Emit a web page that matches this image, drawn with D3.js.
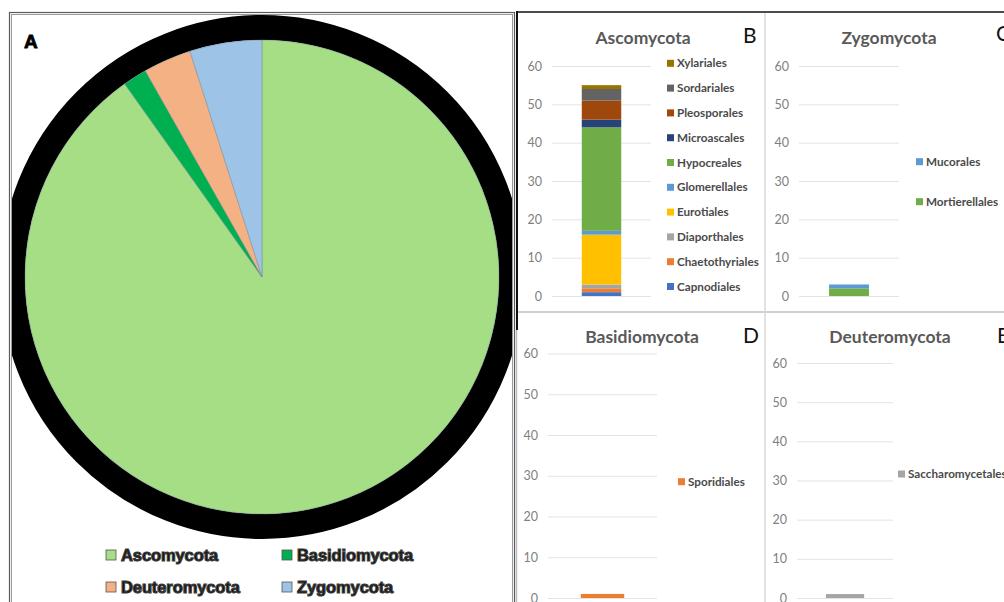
<!DOCTYPE html>
<html>
<head>
<meta charset="utf-8">
<script src="https://cdn.jsdelivr.net/npm/d3@7/dist/d3.min.js"></script>
<style>
  html, body { margin: 0; padding: 0; background: #fff; }
  svg { display: block; }
</style>
</head>
<body>
<svg id="fig" width="1004" height="602"></svg>
<script>
// ---- data ----
const phyla = ["Ascomycota", "Basidiomycota", "Deuteromycota", "Zygomycota"];
const phylumCounts = [55, 1, 2, 3];

const ascoOrders = ["Capnodiales", "Chaetothyriales", "Diaporthales", "Eurotiales", "Glomerellales",
                    "Hypocreales", "Microascales", "Pleosporales", "Sordariales", "Xylariales"];
const ascoCounts = [1, 1, 1, 13, 1, 27, 2, 5, 3, 1];

const zygoOrders = ["Mortierellales", "Mucorales"];
const zygoCounts = [2, 1];

const basidioOrders = ["Sporidiales"];
const basidioCounts = [1];

const deuteroOrders = ["Saccharomycetales"];
const deuteroCounts = [1];

const yTicks = [0, 10, 20, 30, 40, 50, 60];

// ---- colours ----
const phylumColors = ["#a5de84", "#00b050", "#f4b183", "#9dc3e6"];
const ascoColors = ["#4472c4", "#ed7d31", "#a5a5a5", "#ffc000", "#5b9bd5",
                    "#70ad47", "#264478", "#9e480e", "#636363", "#997300"];
const zygoColors = ["#70ad47", "#5b9bd5"];
const basidioColors = ["#ed7d31"];
const deuteroColors = ["#a5a5a5"];

const svg = d3.select("#fig");

// ================= Panel A: pie of phyla =================
const pieCx = 262, pieCy = 277, pieR = 237, ringW = 25;

svg.append("clipPath").attr("id", "clipA")
  .append("rect").attr("x", 11).attr("y", 14).attr("width", 501).attr("height", 600);

const gA = svg.append("g").attr("clip-path", "url(#clipA)");

// thick black rim around the pie
gA.append("circle")
  .attr("cx", pieCx).attr("cy", pieCy)
  .attr("r", pieR + ringW / 2)
  .attr("fill", "none").attr("stroke", "#000").attr("stroke-width", ringW);

const pie = d3.pie().sort(null).value(d => d.v);
const arc = d3.arc().innerRadius(0).outerRadius(pieR);
const pieData = phyla.map((p, i) => ({ name: p, v: phylumCounts[i], c: phylumColors[i] }));

gA.append("g").attr("transform", `translate(${pieCx},${pieCy})`)
  .selectAll("path").data(pie(pieData)).join("path")
  .attr("d", arc)
  .attr("fill", d => d.data.c)
  .attr("stroke", "rgba(110,130,150,0.55)").attr("stroke-width", 0.8);

// panel A frame (double line)
svg.append("rect").attr("x", 9.5).attr("y", 12.5).attr("width", 505).attr("height", 600)
  .attr("fill", "none").attr("stroke", "#5a5a5a").attr("stroke-width", 1.2);
svg.append("rect").attr("x", 11.5).attr("y", 14.5).attr("width", 501).attr("height", 600)
  .attr("fill", "none").attr("stroke", "#9a9a9a").attr("stroke-width", 1);

svg.append("text").attr("x", 24).attr("y", 48).text("A")
  .attr("font-family", "Liberation Sans, Arial, sans-serif").attr("font-weight", "bold")
  .attr("font-size", 19).attr("fill", "#000").attr("stroke", "#000").attr("stroke-width", 0.8);

// pie legend (2 x 2)
const legA = svg.append("g");
const legAPos = [[106, 555], [282, 555], [106, 587], [282, 587]];
pieData.forEach((d, i) => {
  const [lx, ly] = legAPos[i];
  legA.append("rect").attr("x", lx).attr("y", ly - 5).attr("width", 10).attr("height", 10)
    .attr("fill", d.c).attr("stroke", "#555").attr("stroke-width", 0.8);
  legA.append("text").attr("x", lx + 15).attr("y", ly).attr("dy", "0.36em").text(d.name)
    .attr("font-family", "Liberation Sans, Arial, sans-serif").attr("font-weight", "bold")
    .attr("font-size", 16.5).attr("fill", "#111")
    .attr("stroke", "#3a3a3a").attr("stroke-width", 1.1).attr("letter-spacing", -0.1);
});

// ================= Panels B-E: stacked order bars =================
const panels = [
  { title: "Ascomycota", letter: "B", orders: ascoOrders, counts: ascoCounts, colors: ascoColors,
    gx0: 552, gx1: 651, y0: 296, y60: 66, titleX: 643, titleY: 38, letterX: 743, letterY: 36,
    legX: 667, legY: 63.3, legStep: 24.8 },
  { title: "Zygomycota", letter: "C", orders: zygoOrders, counts: zygoCounts, colors: zygoColors,
    gx0: 799, gx1: 899, y0: 296, y60: 66, titleX: 889, titleY: 38, letterX: 996, letterY: 34,
    legX: 916, legY: 161.7, legStep: 40 },
  { title: "Basidiomycota", letter: "D", orders: basidioOrders, counts: basidioCounts, colors: basidioColors,
    gx0: 548, gx1: 657, y0: 598, y60: 353.5, titleX: 642, titleY: 336.5, letterX: 743, letterY: 336,
    legX: 678, legY: 481.7, legStep: 24 },
  { title: "Deuteromycota", letter: "E", orders: deuteroOrders, counts: deuteroCounts, colors: deuteroColors,
    gx0: 797, gx1: 893, y0: 598, y60: 363, titleX: 890, titleY: 336.5, letterX: 997, letterY: 336,
    legX: 898, legY: 474, legStep: 24 }
];

const uiFont = "Lato, 'Open Sans', sans-serif";

panels.forEach(p => {
  const g = svg.append("g");
  const y = d3.scaleLinear().domain([0, 60]).range([p.y0, p.y60]);
  const x = d3.scaleBand().domain([p.title]).range([p.gx0, p.gx1]).padding(0.43);

  // value axis with gridlines
  const ax = g.append("g").attr("transform", `translate(${p.gx0},0)`)
    .call(d3.axisLeft(y).tickValues(yTicks).tickSize(-(p.gx1 - p.gx0)).tickPadding(10));
  ax.select(".domain").remove();
  ax.selectAll(".tick line").attr("stroke", "#e3e3e3").attr("stroke-width", 1);
  ax.selectAll(".tick text").attr("fill", "#7f7f7f").attr("font-family", uiFont).attr("font-size", 12.5);

  // stacked bar
  const row = {};
  p.orders.forEach((o, i) => { row[o] = p.counts[i]; });
  const series = d3.stack().keys(p.orders)([row]);
  g.selectAll("rect.seg").data(series).join("rect").attr("class", "seg")
    .attr("x", x(p.title)).attr("width", x.bandwidth())
    .attr("y", s => y(s[0][1])).attr("height", s => y(s[0][0]) - y(s[0][1]))
    .attr("fill", (s, i) => p.colors[i]);

  // title & panel letter
  g.append("text").attr("x", p.titleX).attr("y", p.titleY).attr("dy", "0.35em")
    .attr("text-anchor", "middle").text(p.title)
    .attr("font-family", uiFont).attr("font-weight", "bold").attr("font-size", 17.5).attr("fill", "#595959");
  g.append("text").attr("x", p.letterX).attr("y", p.letterY).attr("dy", "0.35em").text(p.letter)
    .attr("font-family", uiFont).attr("font-size", 21).attr("fill", "#111");

  // legend, top entry = top of stack
  const legendItems = p.orders.map((o, i) => ({ o, c: p.colors[i] })).reverse();
  legendItems.forEach((d, i) => {
    const ly = p.legY + i * p.legStep;
    g.append("rect").attr("x", p.legX).attr("y", ly - 3.5).attr("width", 7).attr("height", 7).attr("fill", d.c);
    g.append("text").attr("x", p.legX + 10).attr("y", ly).attr("dy", "0.35em").text(d.o)
      .attr("font-family", uiFont).attr("font-weight", "bold").attr("font-size", 11.7).attr("fill", "#4a4a4a");
  });
});

// panel separators
svg.append("line").attr("x1", 517).attr("x2", 1004).attr("y1", 12).attr("y2", 12)
  .attr("stroke", "#111").attr("stroke-width", 1.5);
svg.append("line").attr("x1", 517).attr("x2", 517).attr("y1", 11).attr("y2", 330)
  .attr("stroke", "#111").attr("stroke-width", 2);
svg.append("line").attr("x1", 516.5).attr("x2", 516.5).attr("y1", 330).attr("y2", 602)
  .attr("stroke", "#bbb").attr("stroke-width", 1.5);
svg.append("line").attr("x1", 518).attr("x2", 1004).attr("y1", 312).attr("y2", 312)
  .attr("stroke", "#d0d0d0").attr("stroke-width", 2);
svg.append("line").attr("x1", 765).attr("x2", 765).attr("y1", 13).attr("y2", 602)
  .attr("stroke", "#d9d9d9").attr("stroke-width", 1.5);
</script>
</body>
</html>
